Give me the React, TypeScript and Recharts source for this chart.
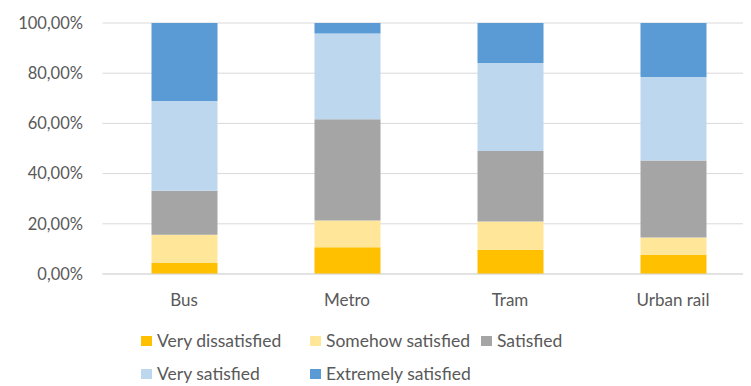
import React from "react";
import { BarChart, Bar, XAxis, YAxis, CartesianGrid } from "recharts";

const categories = ["Bus", "Metro", "Tram", "Urban rail"];
const veryDissatisfied = [4.4, 10.7, 9.7, 7.6];
const somehowSatisfied = [11.2, 10.6, 11.2, 6.9];
const satisfied = [17.6, 40.4, 28.1, 30.7];
const verySatisfied = [35.7, 34.1, 35.1, 33.3];
const extremelySatisfied = [31.1, 4.2, 15.9, 21.5];
const yTicks = [0, 20, 40, 60, 80, 100];

const series = [
  { key: "vd", name: "Very dissatisfied", color: "#FFC000", values: veryDissatisfied },
  { key: "ss", name: "Somehow satisfied", color: "#FFE699", values: somehowSatisfied },
  { key: "s", name: "Satisfied", color: "#A5A5A5", values: satisfied },
  { key: "vs", name: "Very satisfied", color: "#BDD7EE", values: verySatisfied },
  { key: "es", name: "Extremely satisfied", color: "#5B9BD5", values: extremelySatisfied },
];

const data = categories.map((c, i) => {
  const row: Record<string, string | number> = { name: c };
  series.forEach((s) => {
    row[s.key] = s.values[i];
  });
  return row;
});

const FONT = "Lato, 'Open Sans', sans-serif";
const TEXT = "#595959";

const legendPos = [
  { left: 133, top: 323 },
  { left: 302, top: 323 },
  { left: 473, top: 323 },
  { left: 133, top: 356 },
  { left: 302, top: 356 },
];

const fmt = (v: number) => `${v.toFixed(2).replace(".", ",")}%`;

export default function App() {
  return (
    <div style={{ position: "relative", width: 743, height: 378, overflow: "hidden", fontFamily: FONT }}>
      <BarChart
        width={760}
        height={312}
        data={data}
        margin={{ top: 15, right: 13.5, bottom: 16, left: 0 }}
        barSize={66}
      >
        <CartesianGrid vertical={false} stroke="#D9D9D9" strokeWidth={1} />
        <XAxis
          dataKey="name"
          axisLine={{ stroke: "#D9D9D9" }}
          tickLine={false}
          height={30}
          tickMargin={14}
          tick={{ fill: TEXT, fontSize: 17, fontFamily: FONT }}
        />
        <YAxis
          width={94.5}
          domain={[0, 100]}
          ticks={yTicks}
          tickFormatter={fmt}
          axisLine={false}
          tickLine={false}
          tickSize={0}
          tickMargin={19.5}
          tick={{ fill: TEXT, fontSize: 16.5, fontFamily: FONT }}
        />
        {series.map((s) => (
          <Bar key={s.key} dataKey={s.key} name={s.name} stackId="a" fill={s.color} isAnimationActive={false} />
        ))}
      </BarChart>
      {series.map((s, i) => (
        <div
          key={s.key}
          style={{
            position: "absolute",
            left: legendPos[i].left,
            top: legendPos[i].top,
            display: "flex",
            alignItems: "center",
            fontSize: 17.5,
            lineHeight: "20px",
            color: TEXT,
            whiteSpace: "nowrap",
          }}
        >
          <span style={{ display: "inline-block", width: 11, height: 10, background: s.color, marginRight: 5 }} />
          {s.name}
        </div>
      ))}
    </div>
  );
}
